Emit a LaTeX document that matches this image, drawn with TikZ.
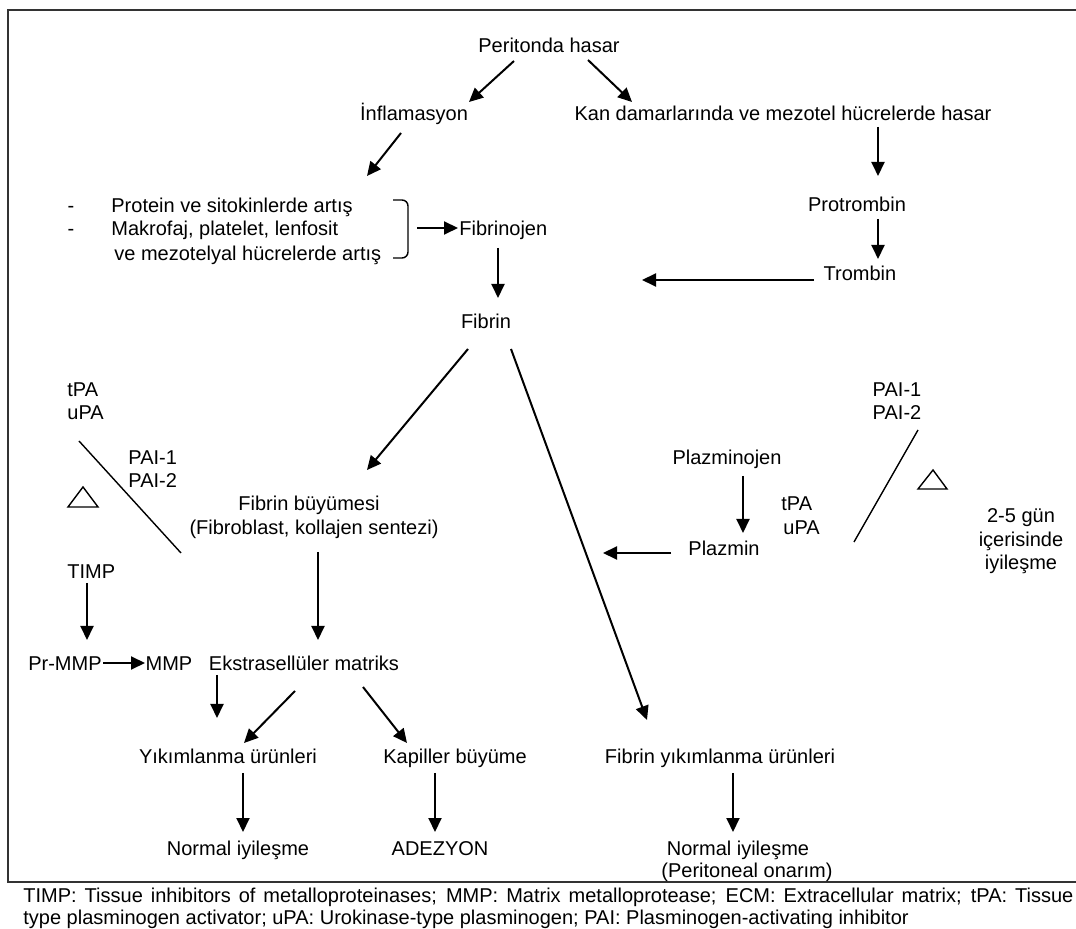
\documentclass[tikz,border=0pt]{standalone}
\usepackage{fontspec}
\setmainfont{Liberation Sans}
\usetikzlibrary{arrows.meta}
\begin{document}
\begin{tikzpicture}[x=0.5pt,y=-0.5pt,
  every node/.style={font=\fontsize{10}{11.5}\selectfont, inner sep=0pt},
  lbl/.style={anchor=mid},
  lblw/.style={anchor=mid west},
  arr/.style={line width=1pt, -{Triangle[length=7pt,width=6.5pt]}},
  inh/.style={line width=0.7pt},
  frame/.style={line width=1.1pt, black!80}]
\useasboundingbox (0,0) rectangle (1076,929);
\draw[frame] (1080,10) -- (8,10) -- (8,882) -- (1080,882);

% nodes
\node[lbl] (per) at (549,47) {Peritonda hasar};
\node[lbl] (inf) at (414,115) {İnflamasyon};
\node[lbl] (kan) at (783,115) {Kan damarlarında ve mezotel hücrelerde hasar};
\node[lbl] (d1) at (71,207) {-};
\node[lbl] (d2) at (71,230) {-};
\node[lblw] (l1) at (111,207) {Protein ve sitokinlerde artış};
\node[lblw] (l2) at (111,230) {Makrofaj, platelet, lenfosit};
\node[lblw] (l3) at (114,255) {ve mezotelyal hücrelerde artış};
\node[lblw] (fgen) at (459,230) {Fibrinojen};
\node[lbl] (prot) at (857,206) {Protrombin};
\node[lbl] (trom) at (860,275) {Trombin};
\node[lbl] (fib) at (486,323) {Fibrin};
\node[lbl] (fbuy) at (309,505) {Fibrin büyümesi};
\node[lbl] (fbuy2) at (314,529) {(Fibroblast, kollajen sentezi)};
\node[lblw] (tpaL) at (67,391) {tPA};
\node[lblw] (upaL) at (67,414) {uPA};
\node[lblw] (paiL1) at (128,459) {PAI-1};
\node[lblw] (paiL2) at (128,482) {PAI-2};
\node[lblw] (timp) at (67,573) {TIMP};
\node[lbl] (prmmp) at (65,665) {Pr-MMP};
\node[lbl] (mmp) at (169,665) {MMP};
\node[lbl] (ekm) at (304,665) {Ekstrasellüler matriks};
\node[lbl] (yik) at (228,758) {Yıkımlanma ürünleri};
\node[lbl] (kap) at (455,758) {Kapiller büyüme};
\node[lbl] (norm1) at (238,850) {Normal iyileşme};
\node[lbl] (adez) at (440,850) {ADEZYON};
\node[lbl] (plg) at (727,459) {Plazminojen};
\node[lbl] (plz) at (724,550) {Plazmin};
\node[lblw] (tpaR) at (781,505) {tPA};
\node[lblw] (upaR) at (783,529) {uPA};
\node[lbl] (paiR1) at (897,391) {PAI-1};
\node[lbl] (paiR2) at (897,414) {PAI-2};
\node[lbl] (gun) at (1021,517) {2-5 gün};
\node[lbl] (icer) at (1021,541) {içerisinde};
\node[lbl] (iyi) at (1021,564) {iyileşme};
\node[lbl] (fyik) at (720,758) {Fibrin yıkımlanma ürünleri};
\node[lbl] (norm2) at (738,850) {Normal iyileşme};
\node[lbl] (peri) at (747,872) {(Peritoneal onarım)};
\node[lblw] (cap1) at (23,897) {\makebox[525pt][s]{TIMP: Tissue inhibitors of metalloproteinases; MMP: Matrix metalloprotease; ECM: Extracellular matrix; tPA: Tissue}};
\node[lblw] (cap2) at (23,919) {type plasminogen activator; uPA: Urokinase-type plasminogen; PAI: Plasminogen-activating inhibitor};

% free ends
\coordinate (thr) at (642,280);
\coordinate (brk) at (417,228);
\coordinate (ekd) at (217,718);
\coordinate (plend) at (603,553);

% bracket
\draw[line width=0.7pt, rounded corners=3pt] (393,200) -- (408,200) -- (408,258) -- (393,258);

% arrows
\draw[arr] ([shift={(-35,14)}]per.mid) -- ([shift={(55,-13)}]inf.mid);
\draw[arr] ([shift={(39,13)}]per.mid) -- ([shift={(-151,-13)}]kan.mid);
\draw[arr] ([shift={(-13,18)}]inf.mid) -- ([shift={(256,-31)}]l1.mid west);
\draw[arr] ([shift={(95,12)}]kan.mid) -- ([shift={(21,-30)}]prot.mid);
\draw[arr] ([shift={(21,13)}]prot.mid) -- ([shift={(18,-16)}]trom.mid);
\draw[arr] ([shift={(-46,5)}]trom.mid) -- (thr);
\draw[arr] (brk) -- ([shift={(-1,-2)}]fgen.mid west);
\draw[arr] ([shift={(39,18)}]fgen.mid west) -- ([shift={(12,-25)}]fib.mid);
\draw[arr] ([shift={(-18,26)}]fib.mid) -- ([shift={(58,-35)}]fbuy.mid);
\draw[arr] ([shift={(25,26)}]fib.mid) -- ([shift={(-73,-38)}]fyik.mid);
\draw[arr] ([shift={(4,23)}]fbuy2.mid) -- ([shift={(14,-25)}]ekm.mid);
\draw[arr] ([shift={(20,10)}]timp.mid west) -- ([shift={(22,-25)}]prmmp.mid);
\draw[arr] ([shift={(38,-2)}]prmmp.mid) -- ([shift={(-24,-2)}]mmp.mid);
\draw[arr] ([shift={(-87,10)}]ekm.mid) -- (ekd);
\draw[arr] ([shift={(-9,26)}]ekm.mid) -- ([shift={(16,-15)}]yik.mid);
\draw[arr] ([shift={(59,22)}]ekm.mid) -- ([shift={(-48,-15)}]kap.mid);
\draw[arr] ([shift={(15,15)}]yik.mid) -- ([shift={(5,-18)}]norm1.mid);
\draw[arr] ([shift={(-20,15)}]kap.mid) -- ([shift={(-5,-18)}]adez.mid);
\draw[arr] ([shift={(13,15)}]fyik.mid) -- ([shift={(-5,-18)}]norm2.mid);
\draw[arr] ([shift={(16,17)}]plg.mid) -- ([shift={(19,-17)}]plz.mid);
\draw[arr] ([shift={(-53,3)}]plz.mid) -- (plend);

% inhibition lines and triangles
\draw[inh] (79,441) -- (181,553);
\draw[inh] (918,430) -- (854,542);
\draw[inh] (68,507) -- (98,507) -- (83,487) -- cycle;
\draw[inh] (918,489) -- (947,489) -- (933,470) -- cycle;
\end{tikzpicture}
\end{document}
